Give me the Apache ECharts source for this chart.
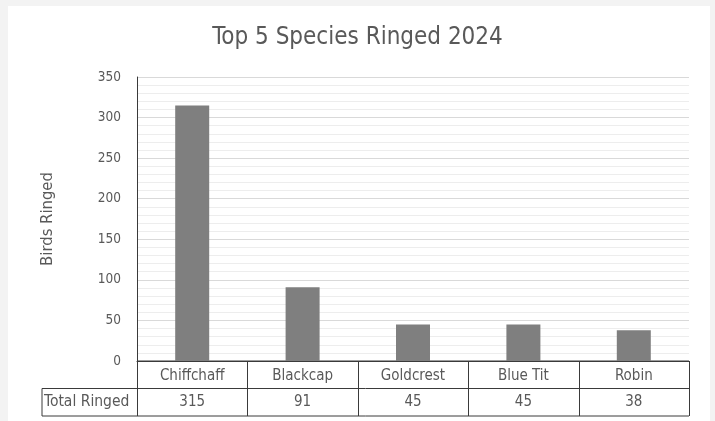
<!DOCTYPE html>
<html>
<head>
<meta charset="utf-8">
<script src="https://cdn.jsdelivr.net/npm/echarts@6/dist/echarts.min.js"></script>
<style>
  html, body { margin: 0; padding: 0; background: #f3f3f3; }
  #panel { position: absolute; left: 8px; top: 6px; width: 702px; height: 415px; background: #ffffff; }
  #chart { position: absolute; left: 0; top: 0; width: 715px; height: 421px; }
</style>
</head>
<body>
<div id="panel"></div>
<div id="chart"></div>
<script>
// Birds ringed per species, 2024
const species = ['Chiffchaff', 'Blackcap', 'Goldcrest', 'Blue Tit', 'Robin'];
const totalRinged = [315, 91, 45, 45, 38];
const rowLabel = 'Total Ringed';
const yTicks = [0, 50, 100, 150, 200, 250, 300, 350];

const FONT = "'Liberation Sans Narrow', 'DejaVu Sans Condensed', sans-serif";
const TEXT = '#595959';
const LINE = '#3a3a3a';

const chart = echarts.init(document.getElementById('chart'), null, { renderer: 'canvas' });

const option = {
  backgroundColor: 'transparent',
  animation: false,
  title: {
    text: 'Top 5 Species Ringed 2024',
    left: 'center',
    top: 21,
    textStyle: { fontFamily: FONT, fontSize: 24, fontWeight: 'normal', color: TEXT }
  },
  grid: { left: 137, right: 26, top: 77, bottom: 60, containLabel: false },
  xAxis: {
    type: 'category',
    data: species,
    boundaryGap: true,
    axisLine: { show: true, lineStyle: { color: LINE, width: 1 } },
    axisTick: { show: false },
    axisLabel: { fontFamily: FONT, fontSize: 15, color: TEXT, margin: 8 },
    splitLine: { show: false }
  },
  yAxis: {
    type: 'value',
    min: yTicks[0],
    max: yTicks[yTicks.length - 1],
    interval: 50,
    name: 'Birds Ringed',
    nameLocation: 'middle',
    nameGap: 81,
    nameTextStyle: { fontFamily: FONT, fontSize: 16.5, color: TEXT },
    axisLine: { show: true, lineStyle: { color: LINE, width: 1 } },
    axisTick: { show: false },
    axisLabel: { fontFamily: FONT, fontSize: 13.5, color: TEXT, margin: 16 },
    splitLine: { show: true, lineStyle: { color: '#d9d9d9', width: 1 } },
    minorTick: { show: false, splitNumber: 5 },
    minorSplitLine: { show: true, lineStyle: { color: '#ededed', width: 1 } }
  },
  series: [{
    type: 'bar',
    data: totalRinged,
    barWidth: 34,
    itemStyle: { color: '#7f7f7f' }
  }]
};
chart.setOption(option);

// Data table beneath the category axis, positioned from the axis scale
function drawTable() {
  const n = species.length;
  const y0 = chart.convertToPixel({ yAxisIndex: 0 }, 0);
  const c0 = chart.convertToPixel({ xAxisIndex: 0 }, species[0]);
  const c1 = chart.convertToPixel({ xAxisIndex: 0 }, species[1]);
  const step = c1 - c0;
  const xLeft = c0 - step / 2;
  const xRight = xLeft + step * n;
  const rowH = 27.5;
  const yMid = y0 + rowH;
  const yBot = y0 + rowH * 2;
  const tableLeft = 42;
  const els = [];
  const line = (x1, y1, x2, y2) => els.push({
    type: 'line', shape: { x1, y1, x2, y2 }, silent: true,
    style: { stroke: LINE, lineWidth: 1 }
  });
  // horizontal rules
  line(xLeft, y0, xRight, y0);
  line(tableLeft, yMid, xRight, yMid);
  line(tableLeft, yBot, xRight, yBot);
  // vertical rules
  line(tableLeft, yMid, tableLeft, yBot);
  for (let i = 0; i <= n; i++) {
    const x = Math.round(xLeft + step * i) + 0.5;
    line(x, y0, x, yBot);
  }
  // row header
  els.push({
    type: 'text', silent: true,
    style: { text: rowLabel, x: tableLeft + 2, y: (yMid + yBot) / 2, textVerticalAlign: 'middle',
      fontFamily: FONT, fontSize: 15.5, fill: TEXT }
  });
  // values
  totalRinged.forEach((v, i) => {
    els.push({
      type: 'text', silent: true,
      style: { text: String(v), x: xLeft + step * (i + 0.5), y: (yMid + yBot) / 2,
        textAlign: 'center', textVerticalAlign: 'middle',
        fontFamily: FONT, fontSize: 15, fill: TEXT }
    });
  });
  chart.setOption({ graphic: els });
}
drawTable();
</script>
</body>
</html>
